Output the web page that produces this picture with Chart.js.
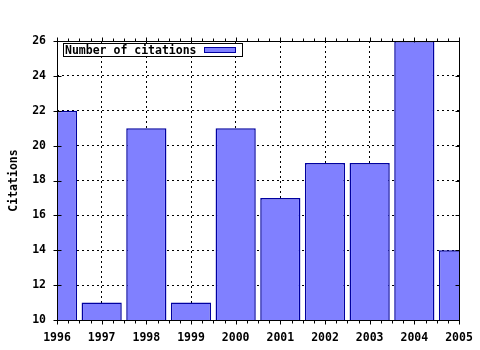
<!DOCTYPE html>
<html>
<head>
<meta charset="utf-8">
<title>Number of citations</title>
<script src="https://cdn.jsdelivr.net/npm/chart.js@4/dist/chart.umd.min.js"></script>
<style>
  html, body { margin: 0; padding: 0; background: #fff; }
  canvas { display: block; }
</style>
</head>
<body>
<canvas id="citationsChart" width="480" height="350"></canvas>
<script>
// data
const years = [1996, 1997, 1998, 1999, 2000, 2001, 2002, 2003, 2004, 2005];
const citations = [22, 11, 21, 11, 21, 17, 19, 19, 26, 14];
const yTickValues = [10, 12, 14, 16, 18, 20, 22, 24, 26];
const seriesLabel = 'Number of citations';

const FILL = '#8080ff';
const EDGE = '#0000a0';

Chart.defaults.font.family = '"DejaVu Sans Mono", "Liberation Mono", monospace';
Chart.defaults.font.size = 11.5;
Chart.defaults.font.weight = 'bold';
Chart.defaults.color = '#000';

// gnuplot style frame + tic marks (minor tics on x every quarter year)
const framePlugin = {
  id: 'frame',
  afterDatasetsDraw(chart) {
    const { ctx, chartArea: a, scales } = chart;
    const L = Math.round(a.left) + 0.5, R = Math.round(a.right) + 0.5;
    const T = Math.round(a.top) + 0.5, B = Math.round(a.bottom) + 0.5;
    ctx.save();
    ctx.strokeStyle = '#000';
    ctx.lineWidth = 1;
    ctx.strokeRect(L, T, R - L, B - T);

    ctx.beginPath();
    years.forEach(yr => {
      for (let q = 0; q < 4; q++) {
        const v = yr + q / 4;
        if (v > years[years.length - 1]) break;
        const x = Math.round(scales.x.getPixelForValue(v)) + 0.5;
        const len = q === 0 ? 4 : 3;
        ctx.moveTo(x, B); ctx.lineTo(x, B + len);
        ctx.moveTo(x, T); ctx.lineTo(x, T - len);
      }
    });
    yTickValues.forEach(v => {
      const y = Math.round(scales.y.getPixelForValue(v)) + 0.5;
      ctx.moveTo(L - 4, y); ctx.lineTo(L + 4, y);
      ctx.moveTo(R - 4, y); ctx.lineTo(R, y);
    });
    ctx.stroke();
    ctx.restore();
  }
};

// legend box inside the plot, text first then the sample
const keyPlugin = {
  id: 'keyBox',
  afterDraw(chart) {
    const { ctx, chartArea: a } = chart;
    const ds = chart.data.datasets[0];
    const x0 = Math.round(a.left) + 6.5, y0 = Math.round(a.top) + 2.5;
    ctx.save();
    ctx.fillStyle = '#fff';
    ctx.fillRect(x0, y0, 179, 13);
    ctx.strokeStyle = '#000';
    ctx.lineWidth = 1;
    ctx.strokeRect(x0, y0, 179, 13);
    ctx.font = 'bold 11.5px "DejaVu Sans Mono", monospace';
    ctx.fillStyle = '#000';
    ctx.textBaseline = 'alphabetic';
    ctx.fillText(ds.label, x0 + 1.5, y0 + 10);
    ctx.fillStyle = ds.backgroundColor;
    ctx.fillRect(x0 + 141, y0 + 4, 31, 5);
    ctx.strokeStyle = ds.borderColor;
    ctx.strokeRect(x0 + 141, y0 + 4, 31, 5);
    ctx.restore();
  }
};

new Chart(document.getElementById('citationsChart'), {
  type: 'bar',
  data: {
    datasets: [{
      label: seriesLabel,
      data: years.map((yr, i) => ({ x: yr, y: citations[i] })),
      backgroundColor: FILL,
      borderColor: EDGE,
      borderWidth: 1.5,
      borderSkipped: false,
      barPercentage: 0.9,
      categoryPercentage: 1.0
    }]
  },
  options: {
    responsive: false,
    animation: false,
    devicePixelRatio: 1,
    layout: { padding: { left: 0, right: 21, top: 41, bottom: 0 } },
    plugins: {
      legend: { display: false },
      tooltip: { enabled: false }
    },
    scales: {
      x: {
        type: 'linear',
        offset: false,
        min: years[0],
        max: years[years.length - 1],
        afterBuildTicks: s => { s.ticks = years.map(v => ({ value: v })); },
        afterFit: s => { s.height = 30; s.paddingLeft = 0; s.paddingRight = 0; },
        ticks: { padding: 11, maxRotation: 0, autoSkip: false, callback: v => String(v) },
        grid: { offset: false, color: '#000', drawTicks: false, lineWidth: 1 },
        border: { display: false, dash: [2, 3] }
      },
      y: {
        min: yTickValues[0],
        max: yTickValues[yTickValues.length - 1],
        afterBuildTicks: s => { s.ticks = yTickValues.map(v => ({ value: v })); },
        afterFit: s => { s.width = 57; s.paddingTop = 0; s.paddingBottom = 0; },
        ticks: { padding: 11, callback: v => String(v) },
        grid: { color: '#000', drawTicks: false, lineWidth: 1 },
        border: { display: false, dash: [2, 3] },
        title: { display: true, text: 'Citations', padding: { top: 7, bottom: 0 } }
      }
    }
  },
  plugins: [framePlugin, keyPlugin]
});
</script>
</body>
</html>
